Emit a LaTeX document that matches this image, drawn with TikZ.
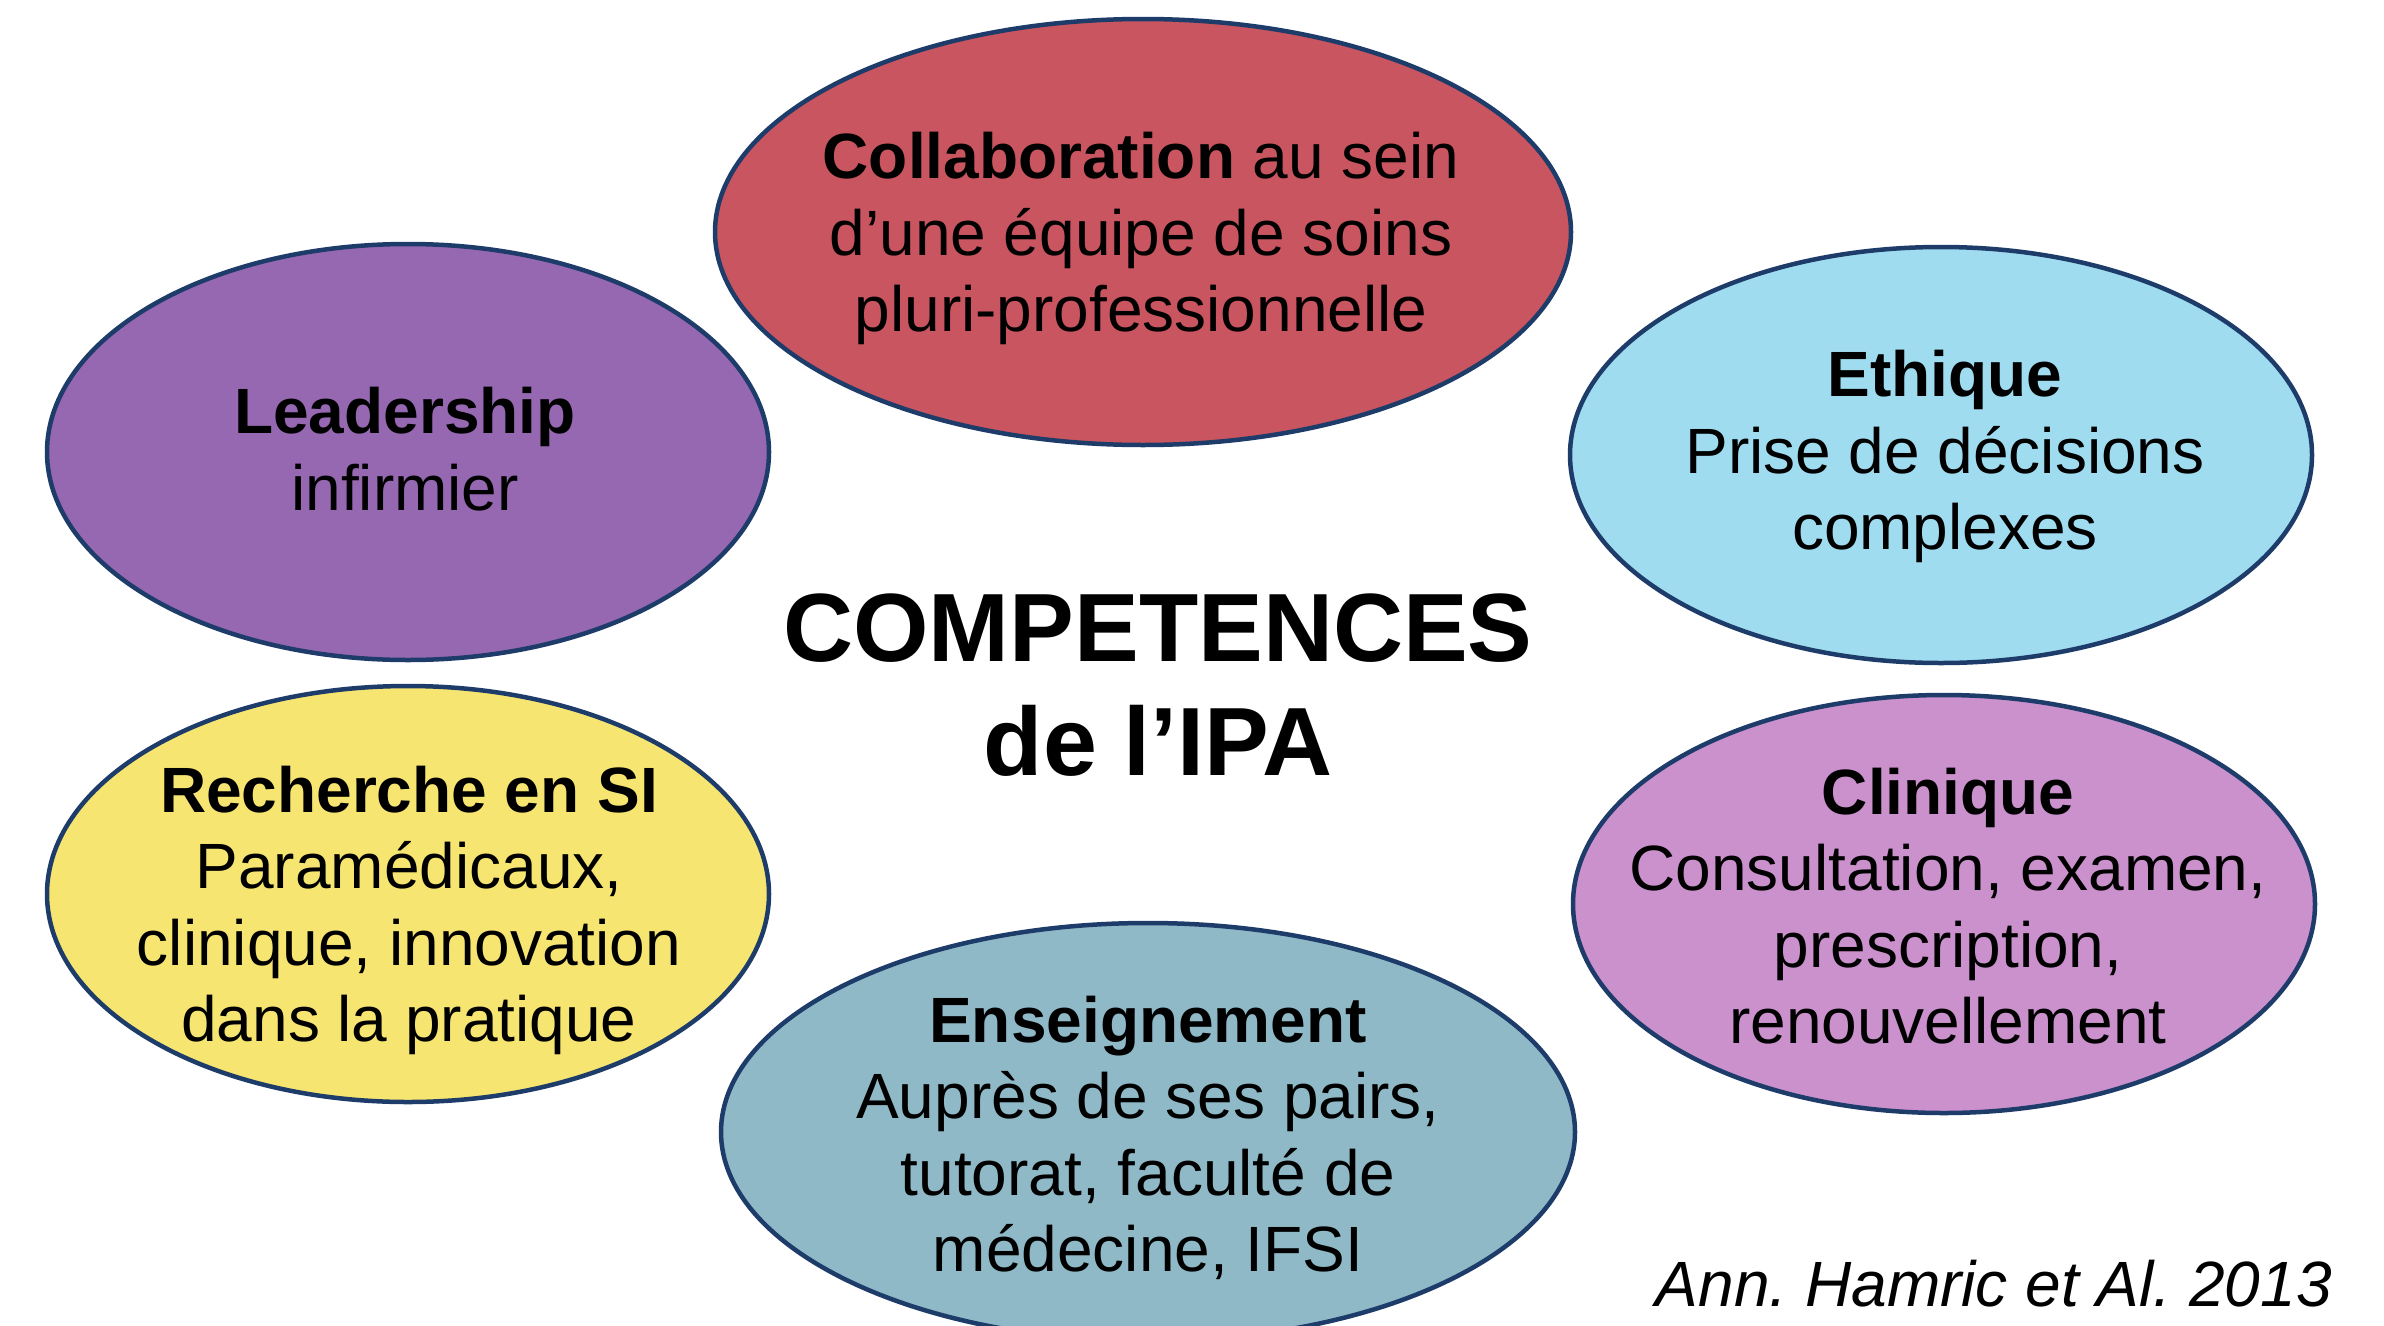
\documentclass[tikz,border=0pt]{standalone}
\usepackage{fontspec}
\setmainfont{Liberation Sans}
\usetikzlibrary{shapes.geometric}
\frenchspacing
\definecolor{edgeblue}{HTML}{1E3C69}
\definecolor{cred}{HTML}{C8555F}
\definecolor{cpurple}{HTML}{9568B1}
\definecolor{clblue}{HTML}{A0DCF0}
\definecolor{cyellow}{HTML}{F7E571}
\definecolor{cpink}{HTML}{CA91CD}
\definecolor{cgrey}{HTML}{8FB9C7}
\newcommand{\tstrut}{\rule{0pt}{60pt}}
\newcommand{\bstrut}{\rule[-14pt]{0pt}{14pt}}
\newcommand{\Tstrut}{\rule{0pt}{90pt}}
\newcommand{\Bstrut}{\rule[-20.6pt]{0pt}{20.6pt}}
\tikzset{
  bubble/.style={ellipse, draw=edgeblue, line width=4.5pt, inner sep=0pt},
  btxt/.style={inner sep=0pt, align=center, font=\fontsize{64}{76.5}\selectfont},
  ttl/.style={inner sep=0pt, align=center, font=\fontsize{97}{114}\selectfont\bfseries},
  cite/.style={inner sep=0pt, anchor=base east, font=\fontsize{64}{76.5}\selectfont\itshape}
}
\begin{document}
\begin{tikzpicture}[x=1pt,y=-1pt]
\clip (0,0) rectangle (2384,1325);
\fill[white] (0,0) rectangle (2384,1325);
% ellipses
\node[bubble, fill=cred,    minimum width=856pt, minimum height=426pt] (collab) at (1143,232) {};
\node[bubble, fill=cpurple, minimum width=722pt, minimum height=416pt] (lead)   at (408,452) {};
\node[bubble, fill=clblue,  minimum width=742pt, minimum height=416pt] (ethi)   at (1941,455) {};
\node[bubble, fill=cyellow, minimum width=722pt, minimum height=416pt] (rech)   at (408,894) {};
\node[bubble, fill=cpink,   minimum width=742pt, minimum height=418pt] (clin)   at (1944,904) {};
\node[bubble, fill=cgrey,   minimum width=854pt, minimum height=418pt] (ens)    at (1148,1132) {};
% texts
\node[btxt] (collabt) at (1141,232) {\tstrut\textbf{Collaboration} au sein\\d’une équipe de soins\\pluri-professionnelle\bstrut};
\node[btxt] (leadt) at (405,449) {\tstrut\textbf{Leadership}\\infirmier\bstrut};
\node[btxt] (ethit) at (1945,450) {\tstrut\textbf{Ethique}\\Prise de décisions\\complexes\bstrut};
\node[btxt] (recht) at (409,904) {\tstrut\textbf{Recherche en SI}\\Paramédicaux,\\clinique, innovation\\dans la pratique\bstrut};
\node[btxt] (clint) at (1948,906) {\tstrut\textbf{Clinique}\\Consultation, examen,\\prescription,\\renouvellement\bstrut};
\node[btxt] (enst) at (1148,1134) {\tstrut\textbf{Enseignement}\\Auprès de ses pairs,\\tutorat, faculté de\\médecine, IFSI\bstrut};
% title
\node[ttl] (title) at (1158,684) {\Tstrut COMPETENCES\\de l’IPA\Bstrut};
% citation
\node[cite] (ref) at (2332,1306) {Ann. Hamric et Al. 2013};
\end{tikzpicture}
\end{document}
